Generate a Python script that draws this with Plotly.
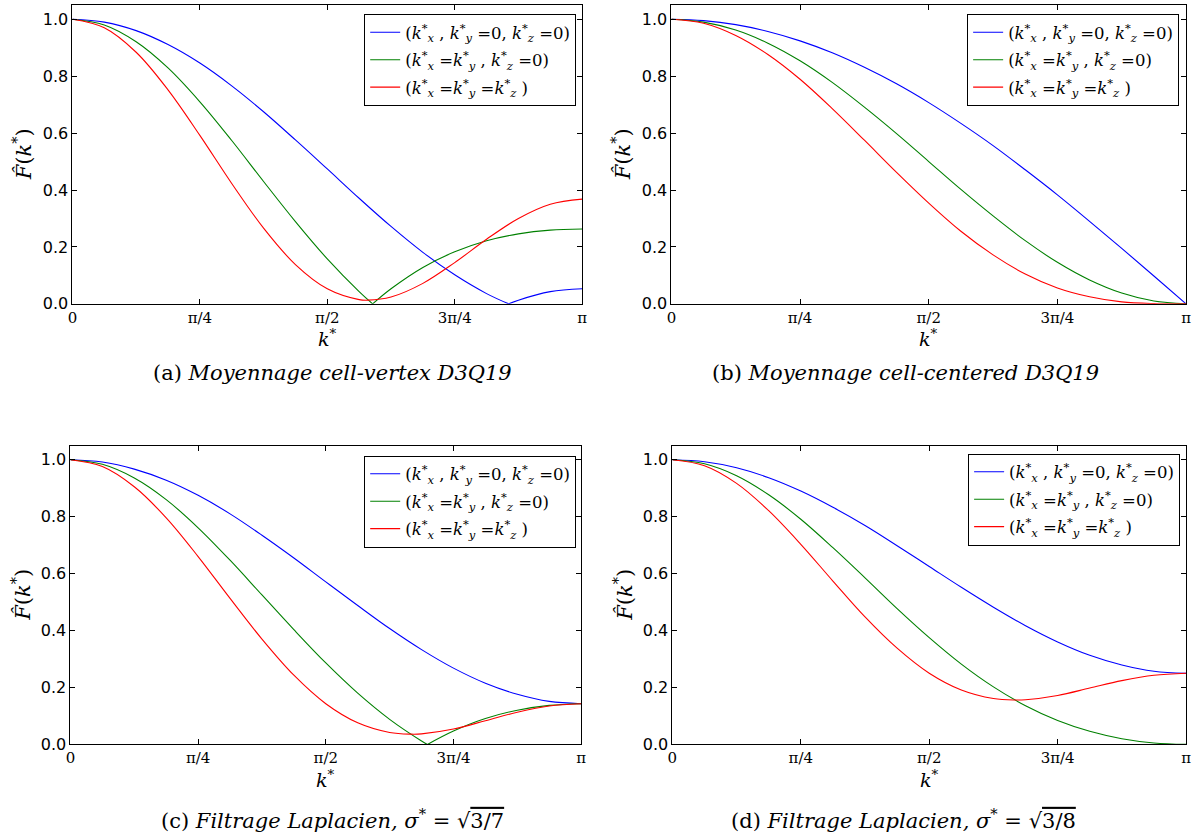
import plotly.graph_objects as go

# x positions as fractions of pi (k*/pi)
K = [0.0, 0.0625, 0.125, 0.1875, 0.25, 0.3125, 0.375, 0.4375, 0.5,
     0.5625, 0.625, 0.6875, 0.75, 0.8125, 0.875, 0.9375, 1.0]

# (a) Moyennage cell-vertex D3Q19
A_BLUE = [1.000, 0.990, 0.960, 0.911, 0.846, 0.766, 0.675, 0.576, 0.474,
          0.371, 0.272, 0.181, 0.102, 0.036, 0.013, 0.043, 0.053]
A_GREEN = [1.000, 0.980, 0.921, 0.829, 0.710, 0.574, 0.430, 0.289, 0.158,
           0.043, 0.053, 0.128, 0.183, 0.222, 0.246, 0.259, 0.263]
A_RED = [1.000, 0.970, 0.884, 0.752, 0.592, 0.423, 0.266, 0.138, 0.053,
         0.015, 0.024, 0.072, 0.145, 0.227, 0.300, 0.350, 0.368]
# (b) Moyennage cell-centered D3Q19
B_BLUE = [1.000, 0.995, 0.981, 0.957, 0.924, 0.882, 0.831, 0.773, 0.707,
          0.634, 0.556, 0.471, 0.383, 0.290, 0.195, 0.098, 0.000]
B_GREEN = [1.000, 0.990, 0.962, 0.916, 0.854, 0.778, 0.691, 0.598, 0.500,
           0.402, 0.309, 0.222, 0.146, 0.084, 0.038, 0.010, 0.000]
B_RED = [1.000, 0.986, 0.943, 0.876, 0.789, 0.686, 0.575, 0.462, 0.354,
         0.255, 0.172, 0.105, 0.056, 0.025, 0.007, 0.001, 0.000]
# (c) Filtrage Laplacien sigma* = sqrt(3/7)
C_BLUE = [1.000, 0.992, 0.967, 0.928, 0.875, 0.810, 0.735, 0.655, 0.571,
          0.488, 0.407, 0.333, 0.268, 0.215, 0.176, 0.151, 0.143]
C_GREEN = [1.000, 0.984, 0.936, 0.860, 0.761, 0.647, 0.525, 0.403, 0.286,
           0.180, 0.088, 0.012, 0.047, 0.091, 0.120, 0.137, 0.143]
C_RED = [1.000, 0.976, 0.905, 0.796, 0.660, 0.513, 0.370, 0.243, 0.143,
         0.076, 0.042, 0.037, 0.054, 0.083, 0.113, 0.135, 0.143]
# (d) Filtrage Laplacien sigma* = sqrt(3/8)
D_BLUE = [1.000, 0.993, 0.972, 0.937, 0.890, 0.833, 0.769, 0.698, 0.625,
          0.552, 0.482, 0.417, 0.360, 0.313, 0.279, 0.257, 0.250]
D_GREEN = [1.000, 0.986, 0.944, 0.877, 0.791, 0.691, 0.585, 0.477, 0.375,
           0.282, 0.202, 0.136, 0.084, 0.046, 0.020, 0.005, 0.000]
D_RED = [1.000, 0.979, 0.917, 0.821, 0.703, 0.574, 0.448, 0.338, 0.250,
         0.191, 0.161, 0.157, 0.172, 0.198, 0.224, 0.243, 0.250]

# extra points read at cusps / minima: (k*/pi, value)
EXTRA = {
    "A_BLUE": [(0.856, 0.0)],
    "A_GREEN": [(0.589, 0.0)],
    "A_RED": [(0.580, 0.013)],
    "C_GREEN": [(0.699, 0.0)],
    "C_RED": [(0.667, 0.036)],
    "D_RED": [(0.667, 0.156)],
}

SERIES = {
    1: [("A_BLUE", A_BLUE), ("A_GREEN", A_GREEN), ("A_RED", A_RED)],
    2: [("B_BLUE", B_BLUE), ("B_GREEN", B_GREEN), ("B_RED", B_RED)],
    3: [("C_BLUE", C_BLUE), ("C_GREEN", C_GREEN), ("C_RED", C_RED)],
    4: [("D_BLUE", D_BLUE), ("D_GREEN", D_GREEN), ("D_RED", D_RED)],
}

LEGEND_LABELS = [
    "(<i>k</i><sup>*</sup><sub><i>x</i></sub> , <i>k</i><sup>*</sup><sub><i>y</i></sub> =0, <i>k</i><sup>*</sup><sub><i>z</i></sub> =0)",
    "(<i>k</i><sup>*</sup><sub><i>x</i></sub> =<i>k</i><sup>*</sup><sub><i>y</i></sub> , <i>k</i><sup>*</sup><sub><i>z</i></sub> =0)",
    "(<i>k</i><sup>*</sup><sub><i>x</i></sub> =<i>k</i><sup>*</sup><sub><i>y</i></sub> =<i>k</i><sup>*</sup><sub><i>z</i></sub> )",
]
COLORS = ["#0000ff", "#008000", "#ff0000"]

X_TICKVALS = [0, 0.25, 0.5, 0.75, 1.0]
X_TICKTEXT = ["0", "π/4", "π/2", "3π/4", "π"]
Y_TICKVALS = [0.0, 0.2, 0.4, 0.6, 0.8, 1.0]
Y_TICKTEXT = ["0.0", "0.2", "0.4", "0.6", "0.8", "1.0"]

CAPTIONS = [
    "(a) <i>Moyennage cell-vertex D3Q19</i>",
    "(b) <i>Moyennage cell-centered D3Q19</i>",
    "(c) <i>Filtrage Laplacien,</i> <i>σ</i><sup>*</sup> = √<span style='text-decoration:overline'>3/7</span>",
    "(d) <i>Filtrage Laplacien,</i> <i>σ</i><sup>*</sup> = √<span style='text-decoration:overline'>3/8</span>",
]

W, H = 1199, 834          # target picture size (positions below are in its pixels)
FIG_H = 845               # page height; the photographed page is fitted back to 834
# pixel boxes of each panel: left, right, top, bottom
BOX = {1: (68, 582, 5, 303.5), 2: (672, 1191, 5, 303.5),
       3: (66, 581, 445, 743.5), 4: (673, 1191, 445, 743.5)}
LEG = {1: (576, 14), 2: (1184, 14), 3: (576, 455), 4: (1185, 453)}
CAP_Y = {1: 373, 2: 373, 3: 818, 4: 818}
CAP_X = {1: 330, 2: 908, 3: 330, 4: 906}
XT_Y = {1: 338, 2: 338, 3: 778, 4: 778}

SERIF = "DejaVu Serif"
SANS = "DejaVu Sans"

fig = go.Figure()


def segments(name, vals):
    pts = sorted(list(zip(K, vals)) + EXTRA.get(name, []))
    segs, cur = [], [pts[0]]
    for i in range(1, len(pts)):
        cur.append(pts[i])
        if pts[i][1] == 0.0 and 0 < i < len(pts) - 1:
            segs.append(cur)
            cur = [pts[i]]
    segs.append(cur)
    return segs


for p in range(1, 5):
    xa = "x" if p == 1 else f"x{p}"
    ya = "y" if p == 1 else f"y{p}"
    leg = "legend" if p == 1 else f"legend{p}"
    for j, (name, vals) in enumerate(SERIES[p]):
        for s, seg in enumerate(segments(name, vals)):
            fig.add_trace(go.Scatter(
                x=[q[0] for q in seg], y=[q[1] for q in seg], mode="lines",
                line=dict(color=COLORS[j], width=1.1, shape="spline", smoothing=1.0),
                name=LEGEND_LABELS[j], legendgroup=f"{p}-{j}", showlegend=(s == 0),
                legend=leg, xaxis=xa, yaxis=ya, hoverinfo="skip"))

layout = dict(width=W, height=FIG_H, margin=dict(l=0, r=0, t=0, b=0),
              paper_bgcolor="white", plot_bgcolor="white", showlegend=True)
annotations = []
for p in range(1, 5):
    l, r, t, b = BOX[p]
    sfx = "" if p == 1 else str(p)
    layout[f"xaxis{sfx}"] = dict(
        domain=[l / W, r / W], range=[0, 1], anchor=f"y{sfx}",
        tickmode="array", tickvals=X_TICKVALS, ticktext=X_TICKTEXT,
        ticks="inside", ticklen=5, tickcolor="black", showline=True, linecolor="black",
        linewidth=1, mirror="ticks", showgrid=False, zeroline=False,
        tickfont=dict(family=SERIF, size=15, color="black"))
    layout[f"yaxis{sfx}"] = dict(
        domain=[1 - b / H, 1 - t / H], range=[0, 1.05], anchor=f"x{sfx}",
        tickmode="array", tickvals=Y_TICKVALS, ticktext=Y_TICKTEXT,
        ticks="inside", ticklen=5, tickcolor="black", showline=True, linecolor="black",
        linewidth=1, mirror="ticks", showgrid=False, zeroline=False,
        tickfont=dict(family=SANS, size=16, color="black"))
    lx, ly = LEG[p]
    layout["legend" if p == 1 else f"legend{p}"] = dict(
        x=lx / W, y=1 - ly / H, xanchor="right", yanchor="top", xref="paper", yref="paper",
        bgcolor="white", bordercolor="black", borderwidth=1,
        font=dict(family=SERIF, size=16.5, color="black"), tracegroupgap=3,
        itemwidth=30)
    # y title
    annotations.append(dict(
        text="<i>F\u0302</i>(<i>k</i><sup>*</sup>)", x=(l - 50) / W, y=1 - (t + b) / 2 / H,
        xref="paper", yref="paper", textangle=-90, showarrow=False,
        xanchor="center", yanchor="middle", font=dict(family=SERIF, size=21, color="black")))
    # x title
    annotations.append(dict(
        text="<i>k</i><sup>*</sup>", x=(l + r) / 2 / W, y=1 - XT_Y[p] / H,
        xref="paper", yref="paper", showarrow=False, xanchor="center", yanchor="middle",
        font=dict(family=SERIF, size=19, color="black")))
    annotations.append(dict(
        text=CAPTIONS[p - 1], x=CAP_X[p] / W, y=1 - CAP_Y[p] / H, xref="paper", yref="paper",
        showarrow=False, xanchor="center", yanchor="middle",
        font=dict(family=SERIF, size=21, color="black")))
layout["annotations"] = annotations
fig.update_layout(**layout)
fig.write_html(
    "out.html", config={"displayModeBar": False},
    post_script=("document.body.style.margin='0';"
                 "document.body.style.overflow='hidden';"
                 "document.documentElement.style.overflow='hidden';"))
